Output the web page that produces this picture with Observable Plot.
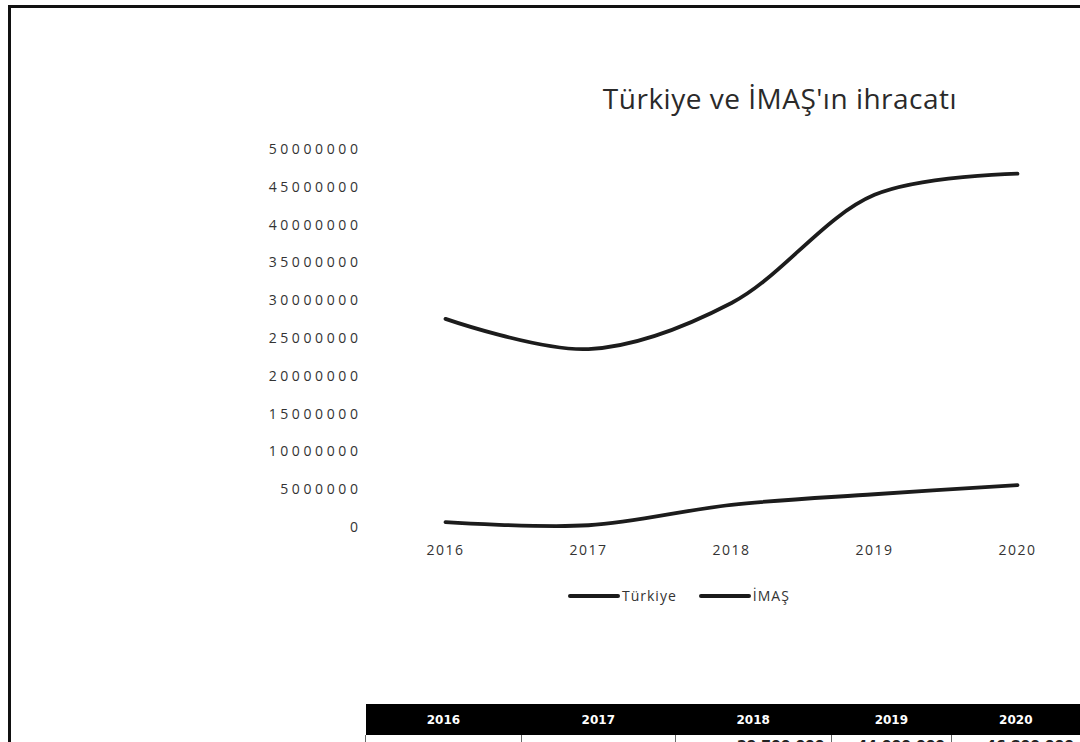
<!DOCTYPE html>
<html>
<head>
<meta charset="utf-8">
<script src="https://cdn.jsdelivr.net/npm/d3@7"></script>
<script src="https://cdn.jsdelivr.net/npm/@observablehq/plot@0.6"></script>
<style>
  html, body { margin: 0; padding: 0; background: #fff; }
  #page { position: relative; width: 1080px; height: 742px; overflow: hidden; background: #fff; font-family: "Open Sans", sans-serif; }
  .border-left { position: absolute; left: 8px; top: 5px; width: 3px; height: 740px; background: #111; }
  .border-top { position: absolute; left: 8px; top: 5px; width: 1072px; height: 3px; background: #111; }
  #title { position: absolute; left: 580px; width: 400px; top: 79px; text-align: center; font-size: 28px; color: #2a2a2a; letter-spacing: 0.5px; font-weight: 400; white-space: nowrap; }
  #chart { position: absolute; left: 0; top: 0; }
  #chart svg g[aria-label="y-axis tick label"] text { letter-spacing: 3.6px; }
  #chart svg g[aria-label="x-axis tick label"] text { letter-spacing: 1.5px; }
  #legend { position: absolute; top: 586px; left: 568px; display: flex; align-items: center; font-size: 14px; color: #333; letter-spacing: 1px; }
  .sw { display: inline-block; width: 52px; height: 4px; background: #1a1a1a; border-radius: 2px; margin-right: 2px; }
  .item { display: flex; align-items: center; margin-right: 22px; }
  #table { position: absolute; left: 365px; top: 704px; border-collapse: collapse; font-family: "DejaVu Sans", sans-serif; }
  #table th { background: #000; color: #fff; font-size: 12px; font-weight: bold; height: 31px; padding: 0; text-align: center; }
  #table td { border-left: 1px solid #666; height: 20px; font-size: 14px; font-weight: bold; color: #222; text-align: right; padding: 2px 6px 0 0; vertical-align: top; line-height: 16px; }
</style>
</head>
<body>
<div id="page">
  <div class="border-left"></div>
  <div class="border-top"></div>
  <div id="title">Türkiye ve İMAŞ'ın ihracatı</div>
  <div id="chart"></div>
  <div id="legend"></div>
  <table id="table"><thead><tr id="thead"></tr></thead><tbody><tr id="trow"></tr></tbody></table>
</div>
<script>
const years = [2016, 2017, 2018, 2019, 2020];
const turkiye = [27600000, 23600000, 29700000, 44000000, 46800000];
const imas = [700000, 300000, 3000000, 4400000, 5600000];
const seriesNames = ["Türkiye", "İMAŞ"];
const yTicks = [0, 5000000, 10000000, 15000000, 20000000, 25000000, 30000000, 35000000, 40000000, 45000000, 50000000];
const colWidths = [158, 156, 158, 122, 130];

const data = [
  ...years.map((y, i) => ({year: y, value: turkiye[i], series: seriesNames[0]})),
  ...years.map((y, i) => ({year: y, value: imas[i], series: seriesNames[1]}))
];

const chart = Plot.plot({
  width: 1080,
  height: 742,
  marginLeft: 365,
  marginBottom: 215,
  marginTop: 149,
  marginRight: 60,
  style: {background: "transparent", fontFamily: "Open Sans, sans-serif", fontSize: "14px", color: "#333"},
  x: {type: "point", domain: years, range: [443, 1018], padding: 0, label: null},
  y: {domain: [0, 50000000], range: [527, 149], label: null},
  marks: [
    Plot.axisY({ticks: yTicks, tickSize: 0, tickPadding: 4, tickFormat: d => String(d)}),
    Plot.axisX({tickSize: 0, tickPadding: 18, tickFormat: d => String(d)}),
    Plot.line(data, {x: "year", y: "value", z: "series", stroke: "#1c1c1c", strokeWidth: 3.8, curve: "catmull-rom", strokeLinecap: "round", strokeLinejoin: "round"})
  ]
});
document.getElementById("chart").appendChild(chart);

const legend = document.getElementById("legend");
seriesNames.forEach(n => {
  const it = document.createElement("div");
  it.className = "item";
  it.innerHTML = '<span class="sw"></span><span>' + n + '</span>';
  legend.appendChild(it);
});

const thead = document.getElementById("thead");
const trow = document.getElementById("trow");
const fmt = v => d3.format(",")(v).replace(/,/g, " ");
years.forEach((y, i) => {
  const th = document.createElement("th");
  th.style.width = colWidths[i] + "px";
  th.textContent = y;
  thead.appendChild(th);
  const td = document.createElement("td");
  td.textContent = i >= 2 ? fmt(turkiye[i]) : "";
  trow.appendChild(td);
});
</script>
</body>
</html>
